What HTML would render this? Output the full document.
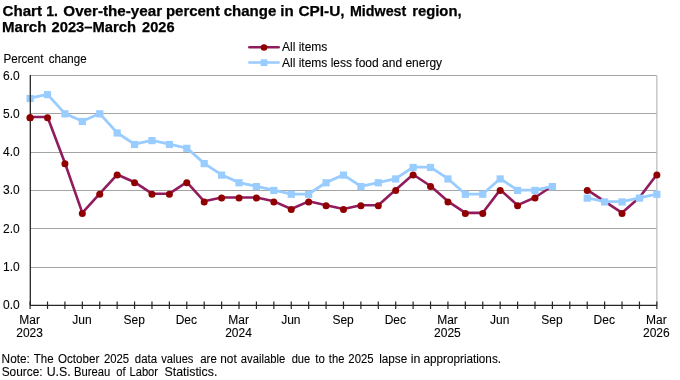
<!DOCTYPE html>
<html><head><meta charset="utf-8">
<style>
html,body{margin:0;padding:0;background:#fff;width:680px;height:380px;overflow:hidden}
svg{display:block;will-change:transform}
.t12{font-family:"Liberation Sans",sans-serif;font-size:12px;fill:#000;stroke:#000;stroke-width:0.1px;white-space:pre}
.tt{font-family:"Liberation Sans",sans-serif;font-size:14px;font-weight:bold;fill:#000;stroke:#000;stroke-width:0.25px;white-space:pre}
</style></head><body>
<svg width="680" height="380" viewBox="0 0 680 380">
<line x1="30.1" y1="267.50" x2="656.86" y2="267.50" stroke="#a4a4a4" stroke-width="1"/>
<line x1="30.1" y1="228.50" x2="656.86" y2="228.50" stroke="#a4a4a4" stroke-width="1"/>
<line x1="30.1" y1="190.50" x2="656.86" y2="190.50" stroke="#a4a4a4" stroke-width="1"/>
<line x1="30.1" y1="152.50" x2="656.86" y2="152.50" stroke="#a4a4a4" stroke-width="1"/>
<line x1="30.1" y1="113.50" x2="656.86" y2="113.50" stroke="#a4a4a4" stroke-width="1"/>
<line x1="30.1" y1="75.50" x2="656.86" y2="75.50" stroke="#a4a4a4" stroke-width="1"/>
<line x1="656.86" y1="75.50" x2="656.86" y2="305.40" stroke="#bfbfbf" stroke-width="1.3"/>
<path d="M30.10,117.05 L47.51,117.05 L64.92,163.03 L82.33,212.84 L99.74,193.68 L117.15,174.52 L134.56,182.19 L151.97,193.68 L169.38,193.68 L186.79,182.19 L204.20,201.34 L221.61,197.51 L239.02,197.51 L256.43,197.51 L273.84,201.34 L291.25,209.01 L308.66,201.34 L326.07,205.18 L343.48,209.01 L360.89,205.18 L378.30,205.18 L395.71,189.85 L413.12,174.52 L430.53,186.02 L447.94,201.34 L465.35,212.84 L482.76,212.84 L500.17,189.85 L517.58,205.18 L534.99,197.51 L552.40,186.02" fill="none" stroke="#911c5d" stroke-width="2.6" stroke-linejoin="round"/>
<path d="M587.22,189.85 L604.63,201.34 L622.04,212.84 L639.45,197.51 L656.86,174.52" fill="none" stroke="#911c5d" stroke-width="2.6" stroke-linejoin="round"/>
<circle cx="30.10" cy="117.65" r="3.5" fill="#900000"/>
<circle cx="47.51" cy="117.65" r="3.5" fill="#900000"/>
<circle cx="64.92" cy="163.63" r="3.5" fill="#900000"/>
<circle cx="82.33" cy="213.44" r="3.5" fill="#900000"/>
<circle cx="99.74" cy="194.28" r="3.5" fill="#900000"/>
<circle cx="117.15" cy="175.12" r="3.5" fill="#900000"/>
<circle cx="134.56" cy="182.79" r="3.5" fill="#900000"/>
<circle cx="151.97" cy="194.28" r="3.5" fill="#900000"/>
<circle cx="169.38" cy="194.28" r="3.5" fill="#900000"/>
<circle cx="186.79" cy="182.79" r="3.5" fill="#900000"/>
<circle cx="204.20" cy="201.94" r="3.5" fill="#900000"/>
<circle cx="221.61" cy="198.11" r="3.5" fill="#900000"/>
<circle cx="239.02" cy="198.11" r="3.5" fill="#900000"/>
<circle cx="256.43" cy="198.11" r="3.5" fill="#900000"/>
<circle cx="273.84" cy="201.94" r="3.5" fill="#900000"/>
<circle cx="291.25" cy="209.61" r="3.5" fill="#900000"/>
<circle cx="308.66" cy="201.94" r="3.5" fill="#900000"/>
<circle cx="326.07" cy="205.78" r="3.5" fill="#900000"/>
<circle cx="343.48" cy="209.61" r="3.5" fill="#900000"/>
<circle cx="360.89" cy="205.78" r="3.5" fill="#900000"/>
<circle cx="378.30" cy="205.78" r="3.5" fill="#900000"/>
<circle cx="395.71" cy="190.45" r="3.5" fill="#900000"/>
<circle cx="413.12" cy="175.12" r="3.5" fill="#900000"/>
<circle cx="430.53" cy="186.62" r="3.5" fill="#900000"/>
<circle cx="447.94" cy="201.94" r="3.5" fill="#900000"/>
<circle cx="465.35" cy="213.44" r="3.5" fill="#900000"/>
<circle cx="482.76" cy="213.44" r="3.5" fill="#900000"/>
<circle cx="500.17" cy="190.45" r="3.5" fill="#900000"/>
<circle cx="517.58" cy="205.78" r="3.5" fill="#900000"/>
<circle cx="534.99" cy="198.11" r="3.5" fill="#900000"/>
<circle cx="587.22" cy="190.45" r="3.5" fill="#900000"/>
<circle cx="622.04" cy="213.44" r="3.5" fill="#900000"/>
<circle cx="656.86" cy="175.12" r="3.5" fill="#900000"/>
<path d="M30.10,98.24 L47.51,94.41 L64.92,113.57 L82.33,121.23 L99.74,113.57 L117.15,132.72 L134.56,144.22 L151.97,140.39 L169.38,144.22 L186.79,148.05 L204.20,163.38 L221.61,174.87 L239.02,182.54 L256.43,186.37 L273.84,190.20 L291.25,194.03 L308.66,194.03 L326.07,182.54 L343.48,174.87 L360.89,186.37 L378.30,182.54 L395.71,178.70 L413.12,167.21 L430.53,167.21 L447.94,178.70 L465.35,194.03 L482.76,194.03 L500.17,178.70 L517.58,190.20 L534.99,190.20 L552.40,186.37" fill="none" stroke="#99ccff" stroke-width="2.8" stroke-linejoin="round"/>
<path d="M587.22,197.86 L604.63,201.69 L622.04,201.69 L639.45,197.86 L656.86,194.03" fill="none" stroke="#99ccff" stroke-width="2.8" stroke-linejoin="round"/>
<rect x="26.50" y="94.89" width="7.2" height="7.2" fill="#99ccff"/>
<rect x="43.91" y="91.06" width="7.2" height="7.2" fill="#99ccff"/>
<rect x="61.32" y="110.22" width="7.2" height="7.2" fill="#99ccff"/>
<rect x="78.73" y="117.88" width="7.2" height="7.2" fill="#99ccff"/>
<rect x="96.14" y="110.22" width="7.2" height="7.2" fill="#99ccff"/>
<rect x="113.55" y="129.38" width="7.2" height="7.2" fill="#99ccff"/>
<rect x="130.96" y="140.87" width="7.2" height="7.2" fill="#99ccff"/>
<rect x="148.37" y="137.04" width="7.2" height="7.2" fill="#99ccff"/>
<rect x="165.78" y="140.87" width="7.2" height="7.2" fill="#99ccff"/>
<rect x="183.19" y="144.70" width="7.2" height="7.2" fill="#99ccff"/>
<rect x="200.60" y="160.03" width="7.2" height="7.2" fill="#99ccff"/>
<rect x="218.01" y="171.52" width="7.2" height="7.2" fill="#99ccff"/>
<rect x="235.42" y="179.19" width="7.2" height="7.2" fill="#99ccff"/>
<rect x="252.83" y="183.02" width="7.2" height="7.2" fill="#99ccff"/>
<rect x="270.24" y="186.85" width="7.2" height="7.2" fill="#99ccff"/>
<rect x="287.65" y="190.68" width="7.2" height="7.2" fill="#99ccff"/>
<rect x="305.06" y="190.68" width="7.2" height="7.2" fill="#99ccff"/>
<rect x="322.47" y="179.19" width="7.2" height="7.2" fill="#99ccff"/>
<rect x="339.88" y="171.52" width="7.2" height="7.2" fill="#99ccff"/>
<rect x="357.29" y="183.02" width="7.2" height="7.2" fill="#99ccff"/>
<rect x="374.70" y="179.19" width="7.2" height="7.2" fill="#99ccff"/>
<rect x="392.11" y="175.35" width="7.2" height="7.2" fill="#99ccff"/>
<rect x="409.52" y="163.86" width="7.2" height="7.2" fill="#99ccff"/>
<rect x="426.93" y="163.86" width="7.2" height="7.2" fill="#99ccff"/>
<rect x="444.34" y="175.35" width="7.2" height="7.2" fill="#99ccff"/>
<rect x="461.75" y="190.68" width="7.2" height="7.2" fill="#99ccff"/>
<rect x="479.16" y="190.68" width="7.2" height="7.2" fill="#99ccff"/>
<rect x="496.57" y="175.35" width="7.2" height="7.2" fill="#99ccff"/>
<rect x="513.98" y="186.85" width="7.2" height="7.2" fill="#99ccff"/>
<rect x="531.39" y="186.85" width="7.2" height="7.2" fill="#99ccff"/>
<rect x="548.80" y="183.02" width="7.2" height="7.2" fill="#99ccff"/>
<rect x="583.62" y="194.51" width="7.2" height="7.2" fill="#99ccff"/>
<rect x="601.03" y="198.34" width="7.2" height="7.2" fill="#99ccff"/>
<rect x="618.44" y="198.34" width="7.2" height="7.2" fill="#99ccff"/>
<rect x="635.85" y="194.51" width="7.2" height="7.2" fill="#99ccff"/>
<rect x="653.26" y="190.68" width="7.2" height="7.2" fill="#99ccff"/>
<line x1="30.3" y1="75.00" x2="30.3" y2="305.40" stroke="#262626" stroke-width="1.3"/>
<line x1="30.1" y1="305.4" x2="656.86" y2="305.4" stroke="#262626" stroke-width="1.3"/>
<line x1="30.10" y1="301.50" x2="30.10" y2="309.00" stroke="#262626" stroke-width="1.2"/>
<line x1="47.51" y1="301.50" x2="47.51" y2="309.00" stroke="#262626" stroke-width="1.2"/>
<line x1="64.92" y1="301.50" x2="64.92" y2="309.00" stroke="#262626" stroke-width="1.2"/>
<line x1="82.33" y1="301.50" x2="82.33" y2="309.00" stroke="#262626" stroke-width="1.2"/>
<line x1="99.74" y1="301.50" x2="99.74" y2="309.00" stroke="#262626" stroke-width="1.2"/>
<line x1="117.15" y1="301.50" x2="117.15" y2="309.00" stroke="#262626" stroke-width="1.2"/>
<line x1="134.56" y1="301.50" x2="134.56" y2="309.00" stroke="#262626" stroke-width="1.2"/>
<line x1="151.97" y1="301.50" x2="151.97" y2="309.00" stroke="#262626" stroke-width="1.2"/>
<line x1="169.38" y1="301.50" x2="169.38" y2="309.00" stroke="#262626" stroke-width="1.2"/>
<line x1="186.79" y1="301.50" x2="186.79" y2="309.00" stroke="#262626" stroke-width="1.2"/>
<line x1="204.20" y1="301.50" x2="204.20" y2="309.00" stroke="#262626" stroke-width="1.2"/>
<line x1="221.61" y1="301.50" x2="221.61" y2="309.00" stroke="#262626" stroke-width="1.2"/>
<line x1="239.02" y1="301.50" x2="239.02" y2="309.00" stroke="#262626" stroke-width="1.2"/>
<line x1="256.43" y1="301.50" x2="256.43" y2="309.00" stroke="#262626" stroke-width="1.2"/>
<line x1="273.84" y1="301.50" x2="273.84" y2="309.00" stroke="#262626" stroke-width="1.2"/>
<line x1="291.25" y1="301.50" x2="291.25" y2="309.00" stroke="#262626" stroke-width="1.2"/>
<line x1="308.66" y1="301.50" x2="308.66" y2="309.00" stroke="#262626" stroke-width="1.2"/>
<line x1="326.07" y1="301.50" x2="326.07" y2="309.00" stroke="#262626" stroke-width="1.2"/>
<line x1="343.48" y1="301.50" x2="343.48" y2="309.00" stroke="#262626" stroke-width="1.2"/>
<line x1="360.89" y1="301.50" x2="360.89" y2="309.00" stroke="#262626" stroke-width="1.2"/>
<line x1="378.30" y1="301.50" x2="378.30" y2="309.00" stroke="#262626" stroke-width="1.2"/>
<line x1="395.71" y1="301.50" x2="395.71" y2="309.00" stroke="#262626" stroke-width="1.2"/>
<line x1="413.12" y1="301.50" x2="413.12" y2="309.00" stroke="#262626" stroke-width="1.2"/>
<line x1="430.53" y1="301.50" x2="430.53" y2="309.00" stroke="#262626" stroke-width="1.2"/>
<line x1="447.94" y1="301.50" x2="447.94" y2="309.00" stroke="#262626" stroke-width="1.2"/>
<line x1="465.35" y1="301.50" x2="465.35" y2="309.00" stroke="#262626" stroke-width="1.2"/>
<line x1="482.76" y1="301.50" x2="482.76" y2="309.00" stroke="#262626" stroke-width="1.2"/>
<line x1="500.17" y1="301.50" x2="500.17" y2="309.00" stroke="#262626" stroke-width="1.2"/>
<line x1="517.58" y1="301.50" x2="517.58" y2="309.00" stroke="#262626" stroke-width="1.2"/>
<line x1="534.99" y1="301.50" x2="534.99" y2="309.00" stroke="#262626" stroke-width="1.2"/>
<line x1="552.40" y1="301.50" x2="552.40" y2="309.00" stroke="#262626" stroke-width="1.2"/>
<line x1="569.81" y1="301.50" x2="569.81" y2="309.00" stroke="#262626" stroke-width="1.2"/>
<line x1="587.22" y1="301.50" x2="587.22" y2="309.00" stroke="#262626" stroke-width="1.2"/>
<line x1="604.63" y1="301.50" x2="604.63" y2="309.00" stroke="#262626" stroke-width="1.2"/>
<line x1="622.04" y1="301.50" x2="622.04" y2="309.00" stroke="#262626" stroke-width="1.2"/>
<line x1="639.45" y1="301.50" x2="639.45" y2="309.00" stroke="#262626" stroke-width="1.2"/>
<line x1="656.86" y1="301.50" x2="656.86" y2="309.00" stroke="#262626" stroke-width="1.2"/>
<circle cx="30.10" cy="117.65" r="3.5" fill="#900000"/>
<text x="3" y="309.25" class="t12">0.0</text>
<text x="3" y="270.99" class="t12">1.0</text>
<text x="3" y="232.73" class="t12">2.0</text>
<text x="3" y="194.47" class="t12">3.0</text>
<text x="3" y="156.22" class="t12">4.0</text>
<text x="3" y="117.96" class="t12">5.0</text>
<text x="3" y="79.70" class="t12">6.0</text>
<text x="29.70" y="323.5" class="t12" text-anchor="middle">Mar</text>
<text x="29.60" y="337.2" class="t12" text-anchor="middle">2023</text>
<text x="81.93" y="323.5" class="t12" text-anchor="middle">Jun</text>
<text x="134.16" y="323.5" class="t12" text-anchor="middle">Sep</text>
<text x="186.39" y="323.5" class="t12" text-anchor="middle">Dec</text>
<text x="238.62" y="323.5" class="t12" text-anchor="middle">Mar</text>
<text x="238.52" y="337.2" class="t12" text-anchor="middle">2024</text>
<text x="290.85" y="323.5" class="t12" text-anchor="middle">Jun</text>
<text x="343.08" y="323.5" class="t12" text-anchor="middle">Sep</text>
<text x="395.31" y="323.5" class="t12" text-anchor="middle">Dec</text>
<text x="447.54" y="323.5" class="t12" text-anchor="middle">Mar</text>
<text x="447.44" y="337.2" class="t12" text-anchor="middle">2025</text>
<text x="499.77" y="323.5" class="t12" text-anchor="middle">Jun</text>
<text x="552.00" y="323.5" class="t12" text-anchor="middle">Sep</text>
<text x="604.23" y="323.5" class="t12" text-anchor="middle">Dec</text>
<text x="656.46" y="323.5" class="t12" text-anchor="middle">Mar</text>
<text x="656.36" y="337.2" class="t12" text-anchor="middle">2026</text>
<line x1="249.3" y1="47.3" x2="278.7" y2="47.3" stroke="#911c5d" stroke-width="2.5" stroke-linecap="round"/>
<circle cx="264" cy="47.5" r="3.3" fill="#900000"/>
<text x="282" y="50.5" class="t12">All items</text>
<line x1="249.3" y1="62.6" x2="278.7" y2="62.6" stroke="#99ccff" stroke-width="2.5" stroke-linecap="round"/>
<rect x="260.6" y="59.3" width="6.8" height="6.8" fill="#99ccff"/>
<text x="282" y="66.9" class="t12">All items less food and energy</text>
<text x="2.56" y="15.6" class="tt" textLength="39.48" lengthAdjust="spacingAndGlyphs">Chart</text>
<text x="46.20" y="15.6" class="tt" textLength="11.69" lengthAdjust="spacingAndGlyphs">1.</text>
<text x="63.36" y="15.6" class="tt" textLength="98.76" lengthAdjust="spacingAndGlyphs">Over-the-year</text>
<text x="165.93" y="15.6" class="tt" textLength="54.05" lengthAdjust="spacingAndGlyphs">percent</text>
<text x="223.76" y="15.6" class="tt" textLength="52.49" lengthAdjust="spacingAndGlyphs">change</text>
<text x="280.22" y="15.6" class="tt" textLength="13.40" lengthAdjust="spacingAndGlyphs">in</text>
<text x="298.45" y="15.6" class="tt" textLength="46.15" lengthAdjust="spacingAndGlyphs">CPI-U,</text>
<text x="349.98" y="15.6" class="tt" textLength="56.36" lengthAdjust="spacingAndGlyphs">Midwest</text>
<text x="412.24" y="15.6" class="tt" textLength="49.33" lengthAdjust="spacingAndGlyphs">region,</text>
<text x="2.02" y="32.3" class="tt" textLength="44.33" lengthAdjust="spacingAndGlyphs">March</text>
<text x="51.47" y="32.3" class="tt" textLength="84.50" lengthAdjust="spacingAndGlyphs">2023–March</text>
<text x="142.08" y="32.3" class="tt" textLength="32.44" lengthAdjust="spacingAndGlyphs">2026</text>
<text x="1.62" y="362.6" class="t12" textLength="28.25" lengthAdjust="spacingAndGlyphs">Note:</text>
<text x="33.86" y="362.6" class="t12" textLength="19.76" lengthAdjust="spacingAndGlyphs">The</text>
<text x="58.02" y="362.6" class="t12" textLength="41.26" lengthAdjust="spacingAndGlyphs">October</text>
<text x="103.93" y="362.6" class="t12" textLength="25.20" lengthAdjust="spacingAndGlyphs">2025</text>
<text x="134.83" y="362.6" class="t12" textLength="22.18" lengthAdjust="spacingAndGlyphs">data</text>
<text x="161.20" y="362.6" class="t12" textLength="32.21" lengthAdjust="spacingAndGlyphs">values</text>
<text x="200.22" y="362.6" class="t12" textLength="16.54" lengthAdjust="spacingAndGlyphs">are</text>
<text x="220.26" y="362.6" class="t12" textLength="16.42" lengthAdjust="spacingAndGlyphs">not</text>
<text x="240.83" y="362.6" class="t12" textLength="44.35" lengthAdjust="spacingAndGlyphs">available</text>
<text x="291.64" y="362.6" class="t12" textLength="18.56" lengthAdjust="spacingAndGlyphs">due</text>
<text x="315.26" y="362.6" class="t12" textLength="9.53" lengthAdjust="spacingAndGlyphs">to</text>
<text x="328.87" y="362.6" class="t12" textLength="15.54" lengthAdjust="spacingAndGlyphs">the</text>
<text x="348.33" y="362.6" class="t12" textLength="25.20" lengthAdjust="spacingAndGlyphs">2025</text>
<text x="379.17" y="362.6" class="t12" textLength="28.06" lengthAdjust="spacingAndGlyphs">lapse</text>
<text x="410.83" y="362.6" class="t12" textLength="9.65" lengthAdjust="spacingAndGlyphs">in</text>
<text x="423.51" y="362.6" class="t12" textLength="77.50" lengthAdjust="spacingAndGlyphs">appropriations.</text>
<text x="3.43" y="63" class="t12" textLength="40.07" lengthAdjust="spacingAndGlyphs">Percent</text>
<text x="48.72" y="63" class="t12" textLength="37.88" lengthAdjust="spacingAndGlyphs">change</text>
<text x="1.71" y="376.4" class="t12" textLength="40.89" lengthAdjust="spacingAndGlyphs">Source:</text>
<text x="46.67" y="376.4" class="t12" textLength="24.06" lengthAdjust="spacingAndGlyphs">U.S.</text>
<text x="73.96" y="376.4" class="t12" textLength="36.23" lengthAdjust="spacingAndGlyphs">Bureau</text>
<text x="116.34" y="376.4" class="t12" textLength="9.28" lengthAdjust="spacingAndGlyphs">of</text>
<text x="129.57" y="376.4" class="t12" textLength="28.41" lengthAdjust="spacingAndGlyphs">Labor</text>
<text x="164.59" y="376.4" class="t12" textLength="52.75" lengthAdjust="spacingAndGlyphs">Statistics.</text>
</svg>
</body></html>
